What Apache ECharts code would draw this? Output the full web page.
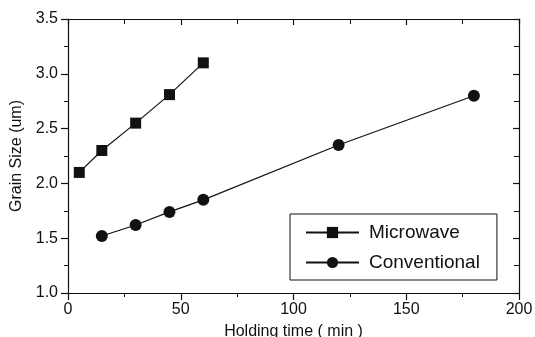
<!DOCTYPE html>
<html>
<head>
<meta charset="utf-8">
<script src="https://cdn.jsdelivr.net/npm/echarts@6/dist/echarts.min.js"></script>
<style>
  html, body { margin: 0; padding: 0; background: #fff; }
  #chart { width: 535px; height: 337px; }
</style>
</head>
<body>
<div id="chart"></div>
<script>
// data
const microwaveTime = [5, 15, 30, 45, 60];
const microwaveSize = [2.1, 2.3, 2.55, 2.81, 3.1];
const conventionalTime = [15, 30, 45, 60, 120, 180];
const conventionalSize = [1.52, 1.62, 1.74, 1.85, 2.35, 2.8];

const font = 'Liberation Sans, Arial, sans-serif';
const ink = '#111';

const chart = echarts.init(document.getElementById('chart'), null, { renderer: 'canvas' });

// bottom/left ticks point out, the mirrored top/right ones point in
const lineStyle = { show: true, onZero: false, lineStyle: { color: ink, width: 1.2 } };
const mainTicks = {
  axisLine: lineStyle,
  axisTick: { show: true, inside: false, length: 7, lineStyle: { color: ink, width: 1.2 } },
  minorTick: { show: true, splitNumber: 2, length: 4, lineStyle: { color: ink, width: 1 } },
  splitLine: { show: false }
};
const mirrorTicks = {
  axisLine: lineStyle,
  axisTick: { show: true, inside: true, length: 6, lineStyle: { color: ink, width: 1.2 } },
  minorTick: { show: true, splitNumber: 2, length: 5, lineStyle: { color: ink, width: 1 } },
  splitLine: { show: false },
  axisLabel: { show: false }
};

const option = {
  animation: false,
  backgroundColor: '#fff',
  grid: { left: 68, right: 16, top: 19, bottom: 44, containLabel: false, outerBoundsMode: 'none' },
  legend: {
    left: 290,
    top: 214,
    orient: 'vertical',
    padding: [9, 17, 8, 15],
    itemGap: 11,
    itemWidth: 53,
    itemHeight: 14,
    borderColor: ink,
    borderWidth: 1,
    backgroundColor: '#fff',
    textStyle: { fontFamily: font, fontSize: 19, color: ink, padding: [0, 0, 0, 5] },
    data: ['Microwave', 'Conventional']
  },
  xAxis: [{
    type: 'value',
    min: 0, max: 200, interval: 50,
    name: 'Holding time ( min )',
    nameLocation: 'middle',
    nameGap: 31,
    nameTextStyle: { fontFamily: font, fontSize: 16, color: ink },
    axisLabel: { fontFamily: font, fontSize: 16, color: ink, margin: 9 },
    ...mainTicks
  }, {
    type: 'value',
    position: 'top',
    min: 0, max: 200, interval: 50,
    ...mirrorTicks
  }],
  yAxis: [{
    type: 'value',
    min: 1.0, max: 3.5, interval: 0.5,
    name: 'Grain Size (um)',
    nameLocation: 'middle',
    nameGap: 42,
    nameTextStyle: { fontFamily: font, fontSize: 16, color: ink },
    axisLabel: { fontFamily: font, fontSize: 16, color: ink, margin: 10,
      formatter: v => v.toFixed(1) },
    ...mainTicks
  }, {
    type: 'value',
    position: 'right',
    min: 1.0, max: 3.5, interval: 0.5,
    ...mirrorTicks
  }],
  series: [{
    name: 'Microwave',
    type: 'line',
    data: microwaveTime.map((t, i) => [t, microwaveSize[i]]),
    symbol: 'rect',
    symbolSize: 11,
    itemStyle: { color: ink },
    lineStyle: { color: ink, width: 1.2 }
  }, {
    name: 'Conventional',
    type: 'line',
    data: conventionalTime.map((t, i) => [t, conventionalSize[i]]),
    symbol: 'circle',
    symbolSize: 12,
    itemStyle: { color: ink },
    lineStyle: { color: ink, width: 1.2 }
  }]
};

chart.setOption(option);
</script>
</body>
</html>
